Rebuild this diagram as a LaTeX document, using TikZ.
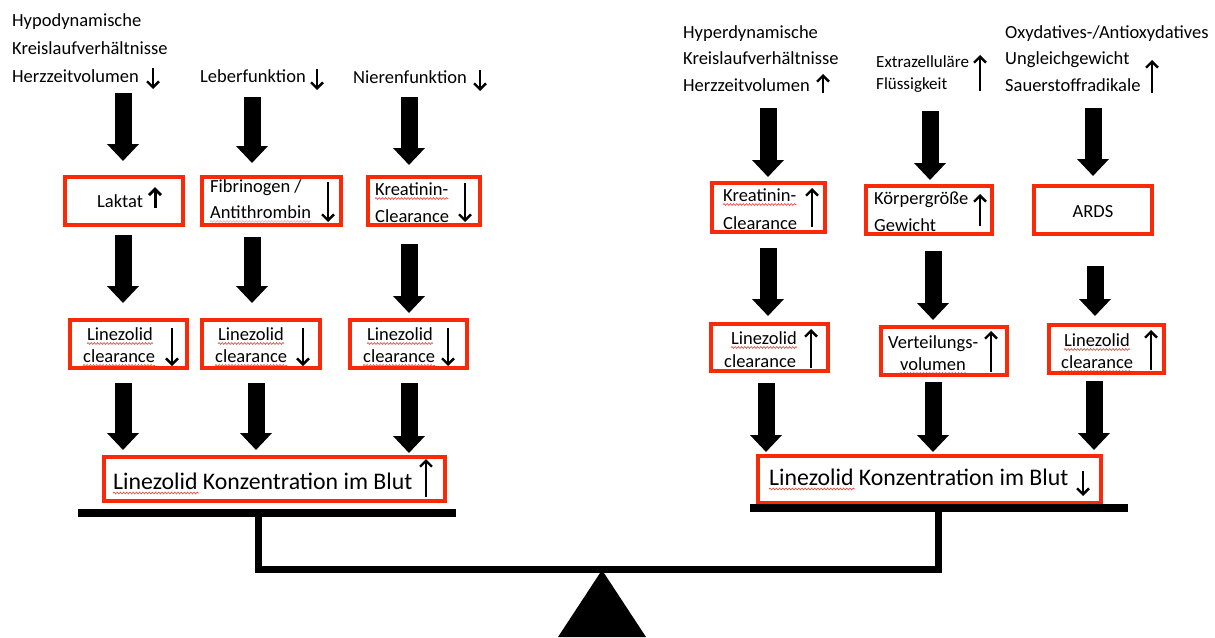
\documentclass[tikz,border=0pt]{standalone}
\usepackage{fontspec}
\setmainfont{Carlito}
\usetikzlibrary{arrows.meta,decorations.pathmorphing,calc}
\definecolor{boxred}{RGB}{250,42,8}
\definecolor{squig}{RGB}{236,80,70}
\begin{document}
\begin{tikzpicture}[x=1pt,y=-1pt,
  rbox/.style={draw=boxred, line width=4pt, inner sep=0pt},
  txt/.style={inner sep=0pt, anchor=base west, font=\fontsize{18.5}{27}\selectfont},
  stxt/.style={inner sep=0pt, anchor=base west, font=\fontsize{17}{22}\selectfont},
  btxt/.style={inner sep=0pt, anchor=base west, font=\fontsize{23.8}{28}\selectfont},
  fat/.style={line width=17pt, -{Triangle[length=17pt,width=31pt]}},
  thinarr/.style={line width=2.4pt, -{Straight Barb[length=6pt,width=12pt]}},
  squiggle/.style={draw=squig, line width=0.7pt, decorate, decoration={snake, amplitude=0.9pt, segment length=3.2pt}},
  bal/.style={fill=black, draw=none}
]
\useasboundingbox (0,0) rectangle (1215,637);

% ---------------- left top texts
\node[txt] (h1) at (12,27) {Hypodynamische};
\node[txt] (h2) at (12,54) {Kreislaufverhältnisse};
\node[txt] (h3) at (12,82) {Herzzeitvolumen};
\node[txt] (lb) at (200,82) {Leberfunktion};
\node[txt] (nf) at (353,83) {Nierenfunktion};

% ---------------- right top texts
\node[txt] (k1) at (683,38) {Hyperdynamische};
\node[txt] (k2) at (683,64) {Kreislaufverhältnisse};
\node[txt] (k3) at (683,91) {Herzzeitvolumen};
\node[stxt] (e1) at (876,67) {Extrazelluläre};
\node[stxt] (e2) at (876,89) {Flüssigkeit};
\node[txt] (o1) at (1005,38) {Oxydatives-/Antioxydatives};
\node[txt] (o2) at (1005,64) {Ungleichgewicht};
\node[txt] (o3) at (1005,91) {Sauerstoffradikale};

% ---------------- texts inside boxes (left)
\node[txt] (t1) at (97,207) {Laktat};
\node[txt] (t2a) at (210,192) {Fibrinogen /};
\node[txt] (t2b) at (210,218) {Antithrombin};
\node[txt] (t3a) at (375,195) {Kreatinin-};
\node[txt] (t3b) at (375,222) {Clearance};
\node[txt] (t4a) at (87,340) {Linezolid};
\node[txt] (t4b) at (83,362) {clearance};
\node[txt] (t5a) at (218,340) {Linezolid};
\node[txt] (t5b) at (215,362) {clearance};
\node[txt] (t6a) at (367,340) {Linezolid};
\node[txt] (t6b) at (363,362) {clearance};
\node[btxt] (t7) at (113,489) {Linezolid Konzentration im Blut};

% ---------------- texts inside boxes (right)
\node[txt] (u1a) at (723,201) {Kreatinin-};
\node[txt] (u1b) at (723,229) {Clearance};
\node[txt] (u2a) at (874,204) {Körpergröße};
\node[txt] (u2b) at (874,231) {Gewicht};
\node[txt, anchor=base] (u3) at (1093,217) {ARDS};
\node[txt] (u4a) at (731,344) {Linezolid};
\node[txt] (u4b) at (724,367) {clearance};
\node[txt] (u5a) at (888,348) {Verteilungs-};
\node[txt] (u5b) at (900,370) {volumen};
\node[txt] (u6a) at (1064,346) {Linezolid};
\node[txt] (u6b) at (1061,368) {clearance};
\node[btxt] (u7) at (769,485) {Linezolid Konzentration im Blut};

% ---------------- spell-check squiggles
\foreach \n in {t3a,t4a,t4b,t5a,t5b,t6a,t6b,u1a,u4a,u4b,u5b,u6a,u6b}{
  \draw[squiggle] ($(\n.base west)+(0,3.5)$) -- ($(\n.base east)+(0,3.5)$);
}
\draw[squiggle, draw=squig!45] ($(t2b.base west)+(0,3.5)$) -- ($(t2b.base east)+(0,3.5)$);
\draw[squiggle] ($(t7.base west)+(0,4)$) -- ($(t7.base west)+(86,4)$);
\draw[squiggle] ($(u7.base west)+(0,4)$) -- ($(u7.base west)+(86,4)$);

% ---------------- red boxes
\node[rbox, minimum width=118, minimum height=48] (L1) at (124,201) {};
\node[rbox, minimum width=139, minimum height=48] (L2) at (271.5,201) {};
\node[rbox, minimum width=112, minimum height=48] (L3) at (424,201) {};
\node[rbox, minimum width=117, minimum height=48] (L4) at (128.5,344) {};
\node[rbox, minimum width=118, minimum height=48] (L5) at (261,344) {};
\node[rbox, minimum width=117, minimum height=48] (L6) at (408.5,344) {};
\node[rbox, minimum width=341, minimum height=44] (L7) at (274.5,479) {};
\node[rbox, minimum width=113, minimum height=49] (R1) at (768.5,207.5) {};
\node[rbox, minimum width=126, minimum height=48] (R2) at (929,210) {};
\node[rbox, minimum width=118, minimum height=48] (R3) at (1093,210) {};
\node[rbox, minimum width=117, minimum height=47] (R4) at (769.5,347.5) {};
\node[rbox, minimum width=126, minimum height=48] (R5) at (944,351) {};
\node[rbox, minimum width=115, minimum height=48] (R6) at (1106.5,349) {};
\node[rbox, minimum width=343, minimum height=47] (R7) at (929.5,479.5) {};

% ---------------- small arrows next to texts
\coordinate (sa1) at (153,68);  \draw[thinarr] (sa1) -- ++(0,21);
\coordinate (sa2) at (317,69);  \draw[thinarr] (sa2) -- ++(0,21);
\coordinate (sa3) at (480,70);  \draw[thinarr] (sa3) -- ++(0,21);
\coordinate (sb1) at (823,93);  \draw[thinarr] (sb1) -- ++(0,-19);
\coordinate (sb2) at (980,91);  \draw[thinarr] (sb2) -- ++(0,-36);
\coordinate (sb3) at (1152,93); \draw[thinarr] (sb3) -- ++(0,-33);
\coordinate (sc1) at (155,208); \draw[thinarr, line width=3pt] (sc1) -- ++(0,-21);
\coordinate (sc2) at (328,182); \draw[thinarr] (sc2) -- ++(0,40);
\coordinate (sc3) at (465,183); \draw[thinarr] (sc3) -- ++(0,39);
\coordinate (sc4) at (172,328); \draw[thinarr] (sc4) -- ++(0,38);
\coordinate (sc5) at (303,328); \draw[thinarr] (sc5) -- ++(0,38);
\coordinate (sc6) at (448,328); \draw[thinarr] (sc6) -- ++(0,38);
\coordinate (sc7) at (426,497); \draw[thinarr] (sc7) -- ++(0,-38);
\coordinate (sd1) at (812,227); \draw[thinarr] (sd1) -- ++(0,-39);
\coordinate (sd2) at (980,226); \draw[thinarr] (sd2) -- ++(0,-32);
\coordinate (sd4) at (811,368); \draw[thinarr] (sd4) -- ++(0,-39);
\coordinate (sd5) at (991,372); \draw[thinarr] (sd5) -- ++(0,-41);
\coordinate (sd6) at (1151,370); \draw[thinarr] (sd6) -- ++(0,-40);
\coordinate (sd7) at (1083,471); \draw[thinarr] (sd7) -- ++(0,25);

% ---------------- fat arrows (column x positions)
\coordinate (ca1) at (123,0);
\coordinate (ca2) at (252,0);
\coordinate (ca3) at (409,0);
\coordinate (cb2) at (256,0);
\coordinate (cr1) at (768,0);
\coordinate (cr2) at (930,0);
\coordinate (cr3) at (1093,0);
\coordinate (cs1) at (768,0);
\coordinate (cs2) at (933,0);
\coordinate (cs3) at (1095,0);
\coordinate (ct1) at (766,0);
\coordinate (ct3) at (1094,0);

% left, row 1 : texts -> boxes
\draw[fat, shorten >=14pt] ($(ca1 |- L1.north)+(0,-82)$) -- (ca1 |- L1.north);
\draw[fat, shorten >=12pt] ($(ca2 |- L2.north)+(0,-78)$) -- (ca2 |- L2.north);
\draw[fat, shorten >=10pt] ($(ca3 |- L3.north)+(0,-78)$) -- (ca3 |- L3.north);
% left, row 2 : boxes -> boxes
\draw[fat, shorten <=8pt, shorten >=15pt] (ca1 |- L1.south) -- (ca1 |- L4.north);
\draw[fat, shorten <=10pt, shorten >=15pt] (ca2 |- L2.south) -- (ca2 |- L5.north);
\draw[fat, shorten <=17pt, shorten >=5pt] (ca3 |- L3.south) -- (ca3 |- L6.north);
% left, row 3 : boxes -> big box
\draw[fat, shorten <=13pt, shorten >=5pt] (ca1 |- L4.south) -- (ca1 |- L7.north);
\draw[fat, shorten <=13pt, shorten >=5pt] (cb2 |- L5.south) -- (cb2 |- L7.north);
\draw[fat, shorten <=13pt, shorten >=2pt] (ca3 |- L6.south) -- (ca3 |- L7.north);

% right, row 1
\draw[fat, shorten >=4pt] ($(cr1 |- R1.north)+(0,-73)$) -- (cr1 |- R1.north);
\draw[fat, shorten >=4pt] ($(cr2 |- R2.north)+(0,-73)$) -- (cr2 |- R2.north);
\draw[fat, shorten >=8pt] ($(cr3 |- R3.north)+(0,-76)$) -- (cr3 |- R3.north);
% right, row 2
\draw[fat, shorten <=14pt, shorten >=6pt] (cs1 |- R1.south) -- (cs1 |- R4.north);
\draw[fat, shorten <=15pt, shorten >=5pt] (cs2 |- R2.south) -- (cs2 |- R5.north);
\draw[fat, shorten <=30pt, shorten >=7pt] (cs3 |- R3.south) -- (cs3 |- R6.north);
% right, row 3
\draw[fat, shorten <=10pt, shorten >=2pt] (ct1 |- R4.south) -- (ct1 |- R7.north);
\draw[fat, shorten <=5pt, shorten >=2pt] (cs2 |- R5.south) -- (cs2 |- R7.north);
\draw[fat, shorten <=6pt, shorten >=4pt] (ct3 |- R6.south) -- (ct3 |- R7.north);

% ---------------- balance
\fill[bal] (78,509) rectangle (456,517);
\fill[bal] (750,504) rectangle (1128,512);
\fill[bal] (255,517) rectangle (262,573);
\fill[bal] (935,512) rectangle (942,573);
\fill[bal] (255,566) rectangle (942,573);
\fill[bal] (602,570) -- (646,637) -- (558,637) -- cycle;
\end{tikzpicture}
\end{document}
